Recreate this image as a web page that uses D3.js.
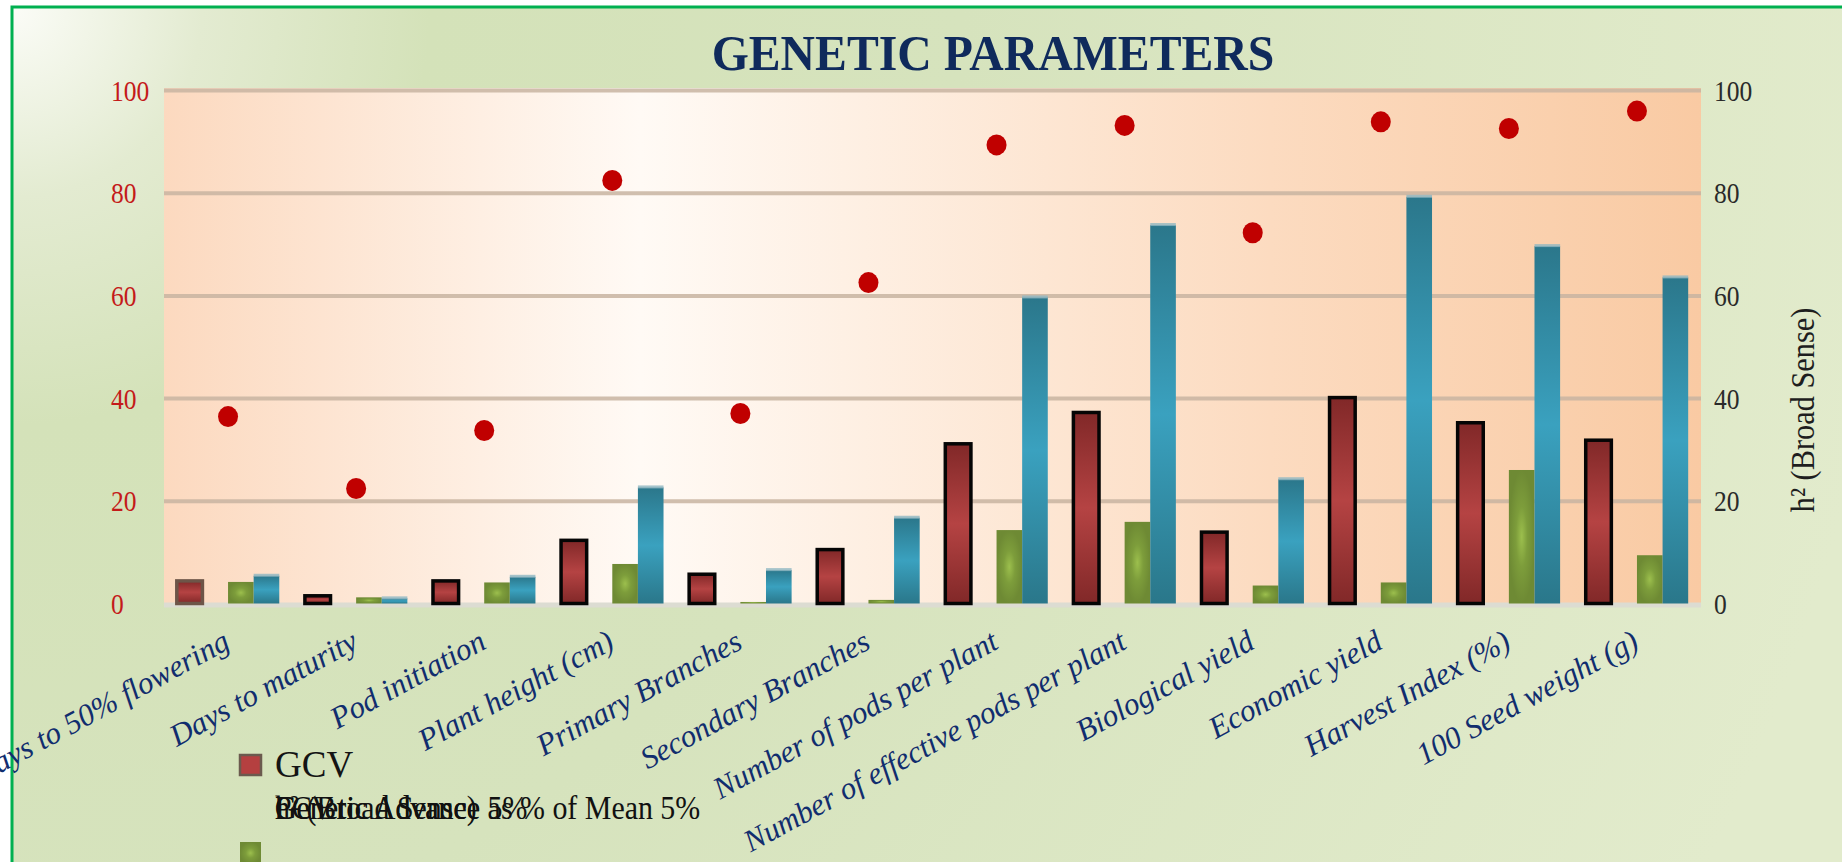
<!DOCTYPE html>
<html>
<head>
<meta charset="utf-8">
<script src="https://cdn.jsdelivr.net/npm/d3@7"></script>
<style>
  html, body { margin: 0; padding: 0; background: #ffffff; }
  svg { display: block; }
</style>
</head>
<body>
<script>
// ---------------- DATA ----------------
const categories = [
  "Days to 50% flowering", "Days to maturity", "Pod initiation", "Plant height (cm)",
  "Primary Branches", "Secondary Branches", "Number of pods per plant",
  "Number of effective pods per plant", "Biological yield", "Economic yield",
  "Harvest Index (%)", "100 Seed weight (g)"
];
const gcv = [4.4, 1.5, 4.4, 12.3, 5.7, 10.5, 31.1, 37.2, 13.9, 40.1, 35.2, 31.8];
const geneticAdvance = [4.2, 1.2, 4.1, 7.7, 0.3, 0.7, 14.3, 15.9, 3.5, 4.1, 26.0, 9.4];
const gaPercentMean = [5.4, 1.0, 5.2, 22.6, 6.5, 16.7, 59.6, 73.7, 24.2, 79.2, 69.6, 63.5];
const heritability = [36.4, 22.4, 33.7, 82.4, 37.0, 62.5, 89.3, 93.1, 72.2, 93.8, 92.5, 95.9];
const leftTicks = [0, 20, 40, 60, 80, 100];
const rightTicks = [0, 20, 40, 60, 80, 100];
const seriesSlots = ["GCV", "PCV", "GA", "GAM"];
const titleText = "GENETIC PARAMETERS";
const rightAxisTitle = "h² (Broad Sense)";
const legendRow1 = "GCV";
const legendRow2 = ["PCV", "h² (Broad Sense)", "Genetic Advance 5%", "Genetic Advance as % of Mean 5%"];

// ---------------- LAYOUT ----------------
const W = 1842, H = 862;
const plot = { left: 164, right: 1701, top: 90, bottom: 603.5 };
const serif = "'Liberation Serif', 'DejaVu Serif', serif";

const svg = d3.select("body").append("svg").attr("width", W).attr("height", H);
const defs = svg.append("defs");

const bgGrad = defs.append("radialGradient").attr("id", "bgGrad")
  .attr("gradientUnits", "userSpaceOnUse").attr("cx", 12).attr("cy", 7).attr("r", 1900);
[[0, "#fbfcf7"], [0.1, "#e3ebd1"], [0.22, "#d4e2b9"], [0.5, "#d6e3bd"], [1, "#e2ebcc"]]
  .forEach(([o, c]) => bgGrad.append("stop").attr("offset", o).attr("stop-color", c));

const plotGrad = defs.append("linearGradient").attr("id", "plotGrad")
  .attr("gradientUnits", "userSpaceOnUse")
  .attr("x1", plot.left).attr("x2", plot.right).attr("y1", 0).attr("y2", 0);
[[0, "#fcd9bf"], [0.31, "#fffaf5"], [0.72, "#fcdbc0"], [1, "#f9caa3"]]
  .forEach(([o, c]) => plotGrad.append("stop").attr("offset", o).attr("stop-color", c));

const redGrad = defs.append("linearGradient").attr("id", "redGrad")
  .attr("x1", 0).attr("x2", 0).attr("y1", 0).attr("y2", 1);
[[0, "#812828"], [0.5, "#b54343"], [1, "#812828"]]
  .forEach(([o, c]) => redGrad.append("stop").attr("offset", o).attr("stop-color", c));

const blueGrad = defs.append("linearGradient").attr("id", "blueGrad")
  .attr("x1", 0).attr("x2", 0).attr("y1", 0).attr("y2", 1);
[[0, "#2b778b"], [0.5, "#3aa1bf"], [1, "#2a778a"]]
  .forEach(([o, c]) => blueGrad.append("stop").attr("offset", o).attr("stop-color", c));

const greenGrad = defs.append("radialGradient").attr("id", "greenGrad")
  .attr("cx", 0.5).attr("cy", 0.5).attr("r", 0.5);
[[0, "#9cbf4d"], [0.45, "#7d9d3b"], [1, "#6e8a34"]]
  .forEach(([o, c]) => greenGrad.append("stop").attr("offset", o).attr("stop-color", c));

// chart background + green border
svg.append("rect").attr("x", 12).attr("y", 7).attr("width", W + 20).attr("height", H + 20)
  .attr("fill", "url(#bgGrad)").attr("stroke", "#00b050").attr("stroke-width", 3);

// ---------------- SCALES ----------------
const x = d3.scaleBand().domain(categories).range([plot.left, plot.right]).padding(0);
const inner = d3.scaleBand().domain(seriesSlots).range([0, x.bandwidth()])
  .paddingInner(0).paddingOuter(0.5);
const y = d3.scaleLinear().domain([0, 100]).range([plot.bottom, plot.top]);
const yR = d3.scaleLinear().domain([0, 100]).range([plot.bottom, plot.top]);

// plot area
svg.append("rect").attr("x", plot.left).attr("y", plot.top - 2)
  .attr("width", plot.right - plot.left).attr("height", plot.bottom - plot.top + 4)
  .attr("fill", "url(#plotGrad)");

// gridlines
const grid = svg.append("g").attr("transform", `translate(${plot.left},0)`)
  .call(d3.axisLeft(y).tickValues(leftTicks.filter(t => t > 0))
    .tickSize(-(plot.right - plot.left)).tickFormat(""));
grid.select(".domain").remove();
grid.selectAll("line").attr("stroke", "#c8b4a1").attr("stroke-width", 4).attr("stroke-opacity", 0.85);

// baseline
svg.append("line").attr("x1", plot.left).attr("x2", plot.right)
  .attr("y1", y(0) + 1.5).attr("y2", y(0) + 1.5)
  .attr("stroke", "#dcdcd2").attr("stroke-width", 5);

// ---------------- BARS ----------------
const idx = d3.range(categories.length);

// GCV (red, black border)
svg.append("g").selectAll("rect").data(idx).join("rect")
  .attr("x", i => x(categories[i]) + inner("GCV"))
  .attr("y", i => y(gcv[i]))
  .attr("width", inner.bandwidth())
  .attr("height", i => y(0) - y(gcv[i]))
  .attr("fill", "url(#redGrad)")
  .attr("stroke", (d, i) => i === 0 ? "#6d5548" : "#050505")
  .attr("stroke-width", 3.5);

// Genetic Advance (green)
svg.append("g").selectAll("rect").data(idx).join("rect")
  .attr("x", i => x(categories[i]) + inner("GA"))
  .attr("y", i => y(geneticAdvance[i]))
  .attr("width", inner.bandwidth())
  .attr("height", i => y(0) - y(geneticAdvance[i]))
  .attr("fill", "url(#greenGrad)");

// GA as % of mean (blue)
const blueG = svg.append("g");
blueG.selectAll("rect.bar").data(idx).join("rect").attr("class", "bar")
  .attr("x", i => x(categories[i]) + inner("GAM"))
  .attr("y", i => y(gaPercentMean[i]))
  .attr("width", inner.bandwidth())
  .attr("height", i => y(0) - y(gaPercentMean[i]))
  .attr("fill", "url(#blueGrad)");
blueG.selectAll("rect.cap").data(idx).join("rect").attr("class", "cap")
  .attr("x", i => x(categories[i]) + inner("GAM"))
  .attr("y", i => y(gaPercentMean[i]) - 2)
  .attr("width", inner.bandwidth())
  .attr("height", 3)
  .attr("fill", "#8fb7c2").attr("opacity", 0.8);

// heritability dots
svg.append("g").selectAll("ellipse").data(idx).join("ellipse")
  .attr("cx", i => x(categories[i]) + x.bandwidth() / 2)
  .attr("cy", i => yR(heritability[i]))
  .attr("rx", 10).attr("ry", 10.5)
  .attr("fill", "#c00000");

// ---------------- AXES ----------------
const leftAxis = svg.append("g").attr("transform", "translate(111,0)")
  .call(d3.axisLeft(y).tickValues(leftTicks).tickSize(0).tickPadding(0));
leftAxis.select(".domain").remove();
leftAxis.selectAll("text")
  .attr("x", 0).attr("dy", "0.35em")
  .attr("text-anchor", "start")
  .attr("transform", "scale(0.88,1)")
  .attr("font-family", serif).attr("font-size", 29)
  .attr("fill", "#c41a1a");

const rightAxis = svg.append("g").attr("transform", "translate(1714,0)")
  .call(d3.axisRight(yR).tickValues(rightTicks).tickSize(0).tickPadding(0));
rightAxis.select(".domain").remove();
rightAxis.selectAll("text")
  .attr("x", 0).attr("dy", "0.35em")
  .attr("text-anchor", "start")
  .attr("transform", "scale(0.88,1)")
  .attr("font-family", serif).attr("font-size", 29)
  .attr("fill", "#2a2a2a");

const xAxis = svg.append("g").attr("transform", "translate(0,628)")
  .call(d3.axisBottom(x).tickSize(0).tickPadding(0));
xAxis.select(".domain").remove();
xAxis.selectAll("text")
  .attr("x", 0).attr("y", 0).attr("dy", "0.72em")
  .attr("text-anchor", "end")
  .attr("transform", "translate(-7,0) rotate(-28.5)")
  .attr("font-family", serif).attr("font-size", 31)
  .attr("font-style", "italic")
  .attr("fill", "#112d6e");

// right axis title
svg.append("text")
  .attr("transform", "translate(1814,410) rotate(-90) scale(0.92,1)")
  .attr("text-anchor", "middle")
  .attr("font-family", serif).attr("font-size", 33)
  .attr("fill", "#1e1e1e")
  .text(rightAxisTitle);

// title
svg.append("text")
  .attr("transform", "translate(993,70) scale(0.955,1)")
  .attr("text-anchor", "middle")
  .attr("font-family", serif).attr("font-size", 50).attr("font-weight", "bold")
  .attr("fill", "#0f2a5c")
  .text(titleText);

// ---------------- LEGEND ----------------
const legend = svg.append("g");
legend.append("rect").attr("x", 240).attr("y", 755).attr("width", 21).attr("height", 20)
  .attr("fill", "#b54040").attr("stroke", "#6b5a4e").attr("stroke-width", 2.5);
legend.append("text").attr("x", 275).attr("y", 777)
  .attr("font-family", serif).attr("font-size", 37).attr("fill", "#141414")
  .text(legendRow1);
legend.selectAll("text.row2").data(legendRow2).join("text").attr("class", "row2")
  .attr("transform", "translate(275,819) scale(0.88,1)")
  .attr("font-family", serif).attr("font-size", 34).attr("fill", "#111111")
  .text(d => d);
legend.append("rect").attr("x", 240).attr("y", 842).attr("width", 21).attr("height", 22)
  .attr("fill", "url(#greenGrad)");
</script>
</body>
</html>
